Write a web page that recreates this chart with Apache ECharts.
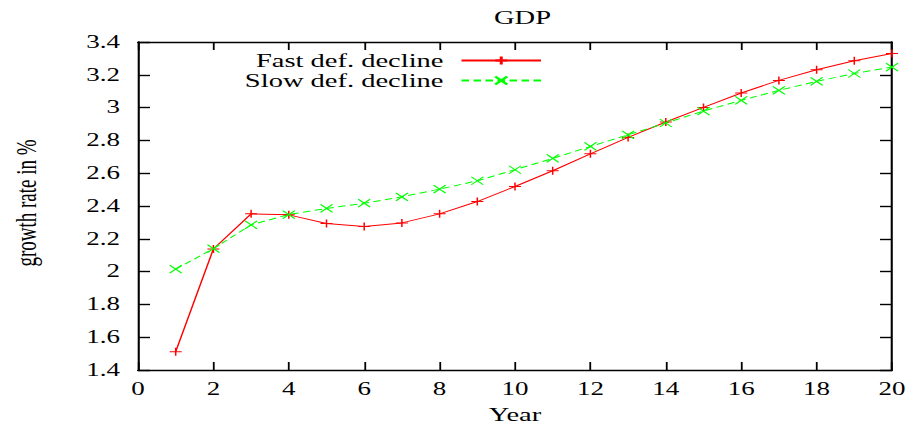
<!DOCTYPE html>
<html><head><meta charset="utf-8">
<script src="https://cdn.jsdelivr.net/npm/echarts@6/dist/echarts.min.js"></script>
<style>
html,body{margin:0;padding:0;background:#fff;overflow:hidden}
#wrap{width:913px;height:428px;overflow:hidden}
#c{width:608.667px;height:428px;transform-origin:0 0;transform:scaleX(1.5)}
</style>
</head><body><div id="wrap"><div id="c"></div></div>
<script>
const years = [1,2,3,4,5,6,7,8,9,10,11,12,13,14,15,16,17,18,19,20];
const fastDecline = [1.512,2.138,2.352,2.346,2.293,2.275,2.297,2.352,2.427,2.519,2.615,2.718,2.818,2.912,3.001,3.089,3.166,3.231,3.286,3.33];
const slowDecline = [2.015,2.14,2.285,2.348,2.385,2.417,2.456,2.503,2.554,2.621,2.69,2.763,2.834,2.906,2.979,3.044,3.105,3.16,3.208,3.247];
const seriesNames = ['Fast def. decline','Slow def. decline'];

const font = 'Liberation Serif';
const W = 913/1.5;
const chart = echarts.init(document.getElementById('c'), null, {renderer:'svg', width:W, height:428});
const plusPath = 'path://M0,5L10,5M5,0L5,10';
const crossPath = 'path://M0,0L10,10M10,0L0,10';
const axisCommon = {
  axisLine:{show:true,onZero:false,lineStyle:{color:'#000',width:1.4}},
  splitLine:{show:false}
};
const tickX = {show:true,inside:true,length:8,lineStyle:{color:'#000',width:1.2}};
const tickY = {show:true,inside:true,length:8,lineStyle:{color:'#000',width:1.4}};
chart.setOption({
  animation:false,
  backgroundColor:'#fff',
  title:{text:'GDP',left:515/1.5,top:3,textAlign:'center',textStyle:{fontFamily:font,fontSize:19,fontWeight:'normal',color:'#000'}},
  grid:{left:92,right:14,top:42,bottom:58,containLabel:false,outerBoundsMode:'none'},
  legend:{
    orient:'vertical',align:'right',right:247,top:51,padding:0,itemWidth:53,itemHeight:10,itemGap:1,
    textStyle:{fontFamily:font,fontSize:19,color:'#000',padding:[0,7,0,0]},
    data:seriesNames
  },
  xAxis:[
    Object.assign({type:'value',min:0,max:20,interval:2,position:'bottom',
      name:'Year',nameLocation:'middle',nameGap:35,
      nameTextStyle:{fontFamily:font,fontSize:19,color:'#000'},
      axisTick:tickX,
      axisLabel:{fontFamily:font,fontSize:18,color:'#000',margin:10}},axisCommon),
    Object.assign({type:'value',min:0,max:20,interval:2,position:'top',
      axisTick:tickX,axisLabel:{show:false}},axisCommon)
  ],
  yAxis:[
    Object.assign({type:'value',min:1.4,max:3.4,interval:0.2,position:'left',
      name:'growth rate in %',nameLocation:'middle',nameGap:65,nameRotate:90,
      nameTextStyle:{fontFamily:font,fontSize:19,color:'#000',padding:[0,0,0,6]},
      axisTick:tickY,
      axisLabel:{fontFamily:font,fontSize:18,color:'#000',margin:12}},axisCommon),
    Object.assign({type:'value',min:1.4,max:3.4,interval:0.2,position:'right',
      axisTick:tickY,axisLabel:{show:false}},axisCommon)
  ],
  series:[
    {name:seriesNames[0],type:'line',xAxisIndex:0,yAxisIndex:0,
     data:years.map((y,i)=>[y,fastDecline[i]]),
     symbol:plusPath,symbolSize:8,showAllSymbol:true,
     lineStyle:{color:'#ff0000',width:1},
     itemStyle:{color:'#ff0000',borderColor:'#ff0000',borderWidth:1}},
    {name:seriesNames[1],type:'line',xAxisIndex:0,yAxisIndex:0,
     data:years.map((y,i)=>[y,slowDecline[i]]),
     symbol:crossPath,symbolSize:8,showAllSymbol:true,
     lineStyle:{color:'#00ff00',width:1,type:[5,3]},
     itemStyle:{color:'#00ff00',borderColor:'#00ff00',borderWidth:1}}
  ]
});
</script></body></html>
